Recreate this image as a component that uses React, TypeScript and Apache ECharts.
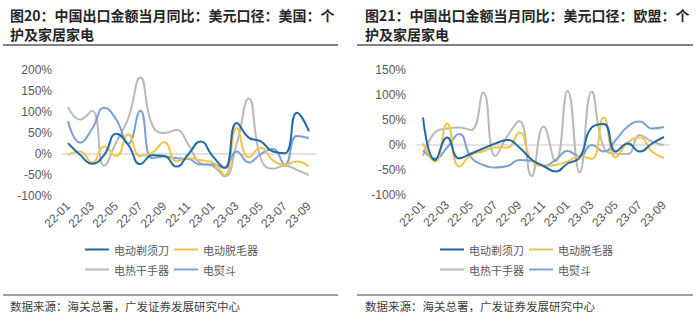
import React, { useEffect, useRef } from "react";
import * as echarts from "echarts";

const months = [
  "22-01", "22-02", "22-03", "22-04", "22-05", "22-06", "22-07", "22-08", "22-09", "22-10", "22-11", "22-12",
  "23-01", "23-02", "23-03", "23-04", "23-05", "23-06", "23-07", "23-08", "23-09",
];

const seriesNames = ["电动剃须刀", "电动脱毛器", "电热干手器", "电熨斗"];

// US
const razorUS = [26, -2, -23, -2, 48, 22, -24, -3, -5, -30, 0, 30, -5, -33, 74, 39, 30, 6, 2, 98, 54];
const epilatorUS = [-2, 6, -21, 18, -5, 47, -5, 3, 28, -17, -10, -15, -20, -50, 62, -8, 15, -15, -25, -18, -30];
const dryerUS = [112, 82, 103, -28, 28, 85, 182, 68, 50, 57, 22, -22, -28, -53, 25, 132, -10, -35, -28, -38, -50];
const ironUS = [78, 27, 60, 110, 82, 25, 103, -10, -6, -10, -12, -25, -25, -33, 6, -20, 0, 12, -25, 43, 38];

// EU
const razorEU = [55, -30, 15, -27, -17, -7, 3, 10, -5, -29, -42, -53, -37, -25, 35, 42, -13, 3, -13, 3, 16];
const epilatorEU = [3, -33, 43, -43, -20, -13, -5, -5, 25, -30, -42, -40, -33, -22, -28, 55, -25, 5, 15, -13, -26];
const dryerEU = [-22, 25, 33, 35, 30, 105, -22, 18, 48, -62, 37, -33, 108, -55, 107, -5, -17, -18, 20, 7, 0];
const ironEU = [-10, -27, -5, 22, -25, -40, -45, -42, -30, -32, -42, -30, -12, -23, 0, -13, 10, 37, 47, 33, 36];

const usTicks = { min: -100, max: 200, interval: 50 };
const euTicks = { min: -100, max: 150, interval: 50 };

const titleUS1 = "图20：中国出口金额当月同比：美元口径：美国：个";
const titleUS2 = "护及家居家电";
const titleEU1 = "图21：中国出口金额当月同比：美元口径：欧盟：个";
const titleEU2 = "护及家居家电";
const sourceText = "数据来源：海关总署，广发证券发展研究中心";

const colors = ["#1f6aa7", "#efc54a", "#b9b9b9", "#7c9fd4"];

const latin = "'Liberation Sans', Arial, sans-serif";
const cjk = "'Noto Sans CJK SC', sans-serif";

export default function App() {
  const ref = useRef<HTMLDivElement>(null);

  useEffect(() => {
    document.body.style.margin = "0";
    if (!ref.current) return;
    const chart = echarts.init(ref.current, undefined, { renderer: "svg" });

    const grids = [
      { left: 62, top: 70, width: 253, height: 126 },
      { left: 417, top: 70, width: 253, height: 125 },
    ];

    const labelAxis = (g: number) => ({
      gridIndex: g,
      type: "category",
      data: months,
      boundaryGap: true,
      position: "bottom",
      axisLine: { show: false, onZero: false },
      axisTick: { show: false },
      axisLabel: {
        interval: 1,
        rotate: 45,
        color: "#595959",
        fontSize: 12,
        fontFamily: latin,
        margin: 8,
      },
      splitLine: { show: false },
    });
    const zeroAxis = (g: number) => ({
      gridIndex: g,
      type: "category",
      data: months,
      boundaryGap: true,
      position: "bottom",
      axisLine: { show: true, onZero: true, lineStyle: { color: "#d9d9d9", width: 1.5 } },
      axisTick: { show: false },
      axisLabel: { show: false },
      splitLine: { show: false },
    });
    const yAx = (g: number, t: { min: number; max: number; interval: number }, margin: number) => ({
      gridIndex: g,
      type: "value",
      min: t.min,
      max: t.max,
      interval: t.interval,
      axisLine: { show: false },
      axisTick: { show: false },
      splitLine: { show: false },
      axisLabel: {
        formatter: "{value}%",
        color: "#595959",
        fontSize: 12,
        fontFamily: latin,
        margin,
      },
    });

    const mk = (name: string, data: number[], color: string, axis: number) => ({
      type: "line",
      name,
      data,
      xAxisIndex: axis * 2,
      yAxisIndex: axis,
      smooth: true,
      symbol: "none",
      lineStyle: { width: 2, color },
      itemStyle: { color },
    });

    const series = [
      mk(seriesNames[2], dryerUS, colors[2], 0),
      mk(seriesNames[3], ironUS, colors[3], 0),
      mk(seriesNames[1], epilatorUS, colors[1], 0),
      mk(seriesNames[0], razorUS, colors[0], 0),
      mk(seriesNames[2], dryerEU, colors[2], 1),
      mk(seriesNames[3], ironEU, colors[3], 1),
      mk(seriesNames[1], epilatorEU, colors[1], 1),
      mk(seriesNames[0], razorEU, colors[0], 1),
    ];

    const leg = (left: number, top: number, data: string[]) => ({
      left,
      top,
      data,
      icon: "rect",
      itemGap: 5,
      itemWidth: 24,
      itemHeight: 2,
      padding: 0,
      selectedMode: false,
      textStyle: { color: "#595959", fontSize: 11, fontFamily: cjk },
    });

    const txt = (x: number, y: number, text: string, size: number, weight: string, fill: string) => ({
      type: "text",
      x,
      y,
      silent: true,
      style: {
        text,
        fontSize: size,
        fontWeight: weight,
        fontFamily: cjk,
        fill,
        align: "left",
        verticalAlign: "middle",
      },
    });
    const ln = (x1: number, y1: number, x2: number, y2: number, stroke: string, w: number) => ({
      type: "line",
      silent: true,
      shape: { x1, y1, x2, y2 },
      style: { stroke, lineWidth: w },
    });

    chart.setOption({
      animation: false,
      backgroundColor: "#ffffff",
      grid: grids,
      xAxis: [labelAxis(0), zeroAxis(0), labelAxis(1), zeroAxis(1)],
      yAxis: [yAx(0, usTicks, 10), yAx(1, euTicks, 11)],
      legend: [
        leg(85, 244, [seriesNames[0], seriesNames[1]]),
        leg(85, 264, [seriesNames[2], seriesNames[3]]),
        leg(440, 244, [seriesNames[0], seriesNames[1]]),
        leg(440, 264, [seriesNames[2], seriesNames[3]]),
      ],
      series,
      graphic: [
        txt(10, 15, titleUS1, 14, "bold", "#262626"),
        txt(10, 34, titleUS2, 14, "bold", "#262626"),
        txt(365, 15, titleEU1, 14, "bold", "#262626"),
        txt(365, 34, titleEU2, 14, "bold", "#262626"),
        ln(3, 45, 338, 45, "#595959", 1.5),
        ln(357, 45, 693, 45, "#595959", 1.5),
        ln(3, 295, 338, 295, "#7f7f7f", 1.5),
        ln(357, 295, 693, 295, "#7f7f7f", 1.5),
        txt(10, 306, sourceText, 11.5, "normal", "#404040"),
        txt(365, 306, sourceText, 11.5, "normal", "#404040"),
      ],
    });

    return () => chart.dispose();
  }, []);

  return (
    <div
      ref={ref}
      style={{ position: "absolute", left: 0, top: 0, width: 700, height: 321 }}
    />
  );
}
